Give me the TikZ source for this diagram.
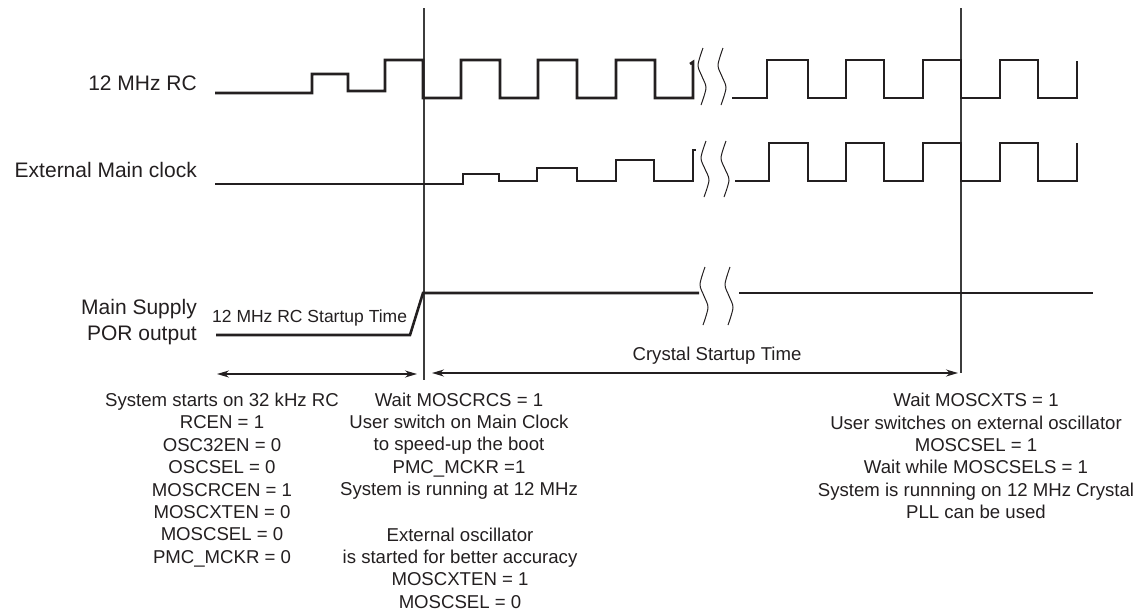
\documentclass[tikz,border=0pt]{standalone}
\usepackage{fontspec}
\setmainfont{Liberation Sans}
\usetikzlibrary{arrows.meta}
\definecolor{ink}{HTML}{231F20}
\definecolor{rule}{HTML}{3C3C3C}
\newcommand{\squig}[3]{%
  \draw[squigline] plot[smooth] coordinates {({#1+1},#2) ({#1-4},{#2+0.3*(#3-#2)}) (#1,{0.5*(#2+#3)}) ({#1+4},{#2+0.7*(#3-#2)}) ({#1-1},#3)};}
\begin{document}
\begin{tikzpicture}[x=1pt,y=-1pt,
  wave/.style={draw=ink,line width=2.6pt,line join=miter},
  vline/.style={draw=rule,line width=1.3pt},
  squigline/.style={draw=ink,line width=1pt},
  dim/.style={draw=ink,line width=1.4pt,{Stealth[length=12pt,width=7pt]}-{Stealth[length=12pt,width=7pt]}},
  lab/.style={font=\fontsize{21}{25}\selectfont,text=ink,inner sep=0pt,anchor=east},
  txt/.style={font=\fontsize{18.6}{22.4}\selectfont,text=ink,inner sep=0pt,align=center}]
\useasboundingbox (0,0) rectangle (1138,611);

% labels
\node[lab] (lrc) at (197,83) {12 MHz RC};
\node[lab] (lext) at (197,170) {External Main clock};
\node[lab] (lms) at (197,309) {Main Supply};
\node[lab] (lpor) at (197,335) {POR output};

% vertical markers
\draw[vline] (424,8) -- (424,380);
\draw[vline] (961,8) -- (961,373);

% 12 MHz RC
\draw[wave] (215,93) -| (312,74) -| (348,91) -| (385,60) -| (423,98) -| (461,60) -| (500,98) -| (538,60) -| (577,98) -| (616,60) -| (655,98) -| (693,62) -- (690,64);
\draw[wave] (732,98) -| (767,60) -| (808,98) -| (846,60) -| (884,98) -| (923,60) -| (961,98) -| (1000,60) -| (1038,98) -| (1077,61);
\squig{702}{48}{105}
\squig{722}{48}{105}

% External main clock
\draw[wave] (215,184) -| (463,174) -| (499,181) -| (537,168) -| (577,181) -| (616,160) -| (654,181) -| (693,150) -- (696,150);
\draw[wave] (735,181) -| (769,143) -| (808,181) -| (846,143) -| (884,181) -| (923,143) -| (961,181) -| (1000,143) -| (1038,181) -| (1077,143);
\squig{705}{141}{197}
\squig{725}{141}{197}

% POR
\draw[wave] (216,335) -- (410,335) -- (423,293) -- (699,293);
\draw[wave] (739,293) -- (1093,293);
\squig{704}{267}{325}
\squig{729}{267}{325}

\node[txt,anchor=west,font=\fontsize{17.5}{21}\selectfont] (rcst) at (212,318) {12 MHz RC Startup Time};

% dimension arrows
\coordinate (a1) at (217,374);
\coordinate (a2) at (417,374);
\coordinate (b1) at (432,373);
\coordinate (b2) at (958,373);
\draw[dim] (a1) -- (a2);
\draw[dim] (b1) -- (b2);
\node[txt] (cst) at (717,356) {Crystal Startup Time};

% text blocks
\node[txt] (left) at (222,480) {System starts on 32 kHz RC\\RCEN = 1\\OSC32EN = 0\\OSCSEL = 0\\MOSCRCEN = 1\\MOSCXTEN = 0\\MOSCSEL = 0\\PMC\_MCKR = 0};
\node[txt] (mid1) at (459,446) {Wait MOSCRCS = 1\\User switch on Main Clock\\to speed-up the boot\\PMC\_MCKR =1\\System is running at 12 MHz};
\node[txt] (mid2) at (460,568) {External oscillator\\is started for better accuracy\\MOSCXTEN = 1\\MOSCSEL = 0};
\node[txt] (right) at (976,456) {Wait MOSCXTS = 1\\User switches on external oscillator\\MOSCSEL = 1\\Wait while MOSCSELS = 1\\System is runnning on 12 MHz Crystal\\PLL can be used};
\end{tikzpicture}
\end{document}
